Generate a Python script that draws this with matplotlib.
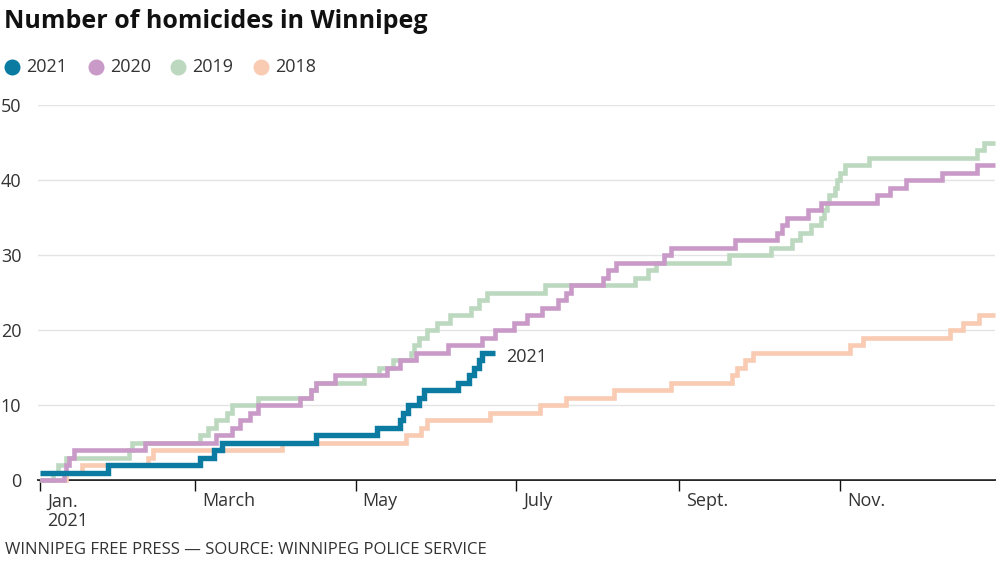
import matplotlib
matplotlib.use("Agg")
import matplotlib.pyplot as plt
from matplotlib.lines import Line2D
import matplotlib.transforms as mtransforms

# ---------------- data ----------------
title = "Number of homicides in Winnipeg"
source = "WINNIPEG FREE PRESS — SOURCE: WINNIPEG POLICE SERVICE"
years = ["2021", "2020", "2019", "2018"]
colors = ["#0b7ba1", "#c99ac8", "#bcd9bf", "#f8cbb2"]

# day of year (0 = Jan 1) at which the cumulative count changes
days_2021 = [0, 26, 61, 66, 69, 105, 128, 137, 138, 140, 144, 146, 159, 163, 165, 167, 168, 173]
counts_2021 = [1, 2, 3, 4, 5, 6, 7, 8, 9, 10, 11, 12, 13, 14, 15, 16, 17, 17]

days_2020 = [0, 9, 10, 11, 13, 40, 67, 73, 76, 80, 83, 99, 103, 105, 112, 132, 137, 143, 155, 168,
             173, 180, 185, 191, 197, 200, 202, 214, 216, 219, 237, 240, 264, 280, 282, 284, 292,
             297, 318, 323, 329, 343, 356, 363]
counts_2020 = [0, 1, 2, 3, 4, 5, 6, 7, 8, 9, 10, 11, 12, 13, 14, 15, 16, 17, 18, 19,
               20, 21, 22, 23, 24, 25, 26, 27, 28, 29, 30, 31, 32, 33, 34, 35, 36,
               37, 38, 39, 40, 41, 42, 42]

days_2019 = [0, 5, 7, 10, 34, 35, 61, 64, 67, 71, 73, 83, 103, 105, 123, 129, 134, 141, 142, 144,
             147, 151, 156, 164, 167, 170, 192, 226, 231, 234, 262, 278, 286, 289, 293, 297, 298,
             299, 300, 302, 303, 304, 306, 315, 356, 359, 363]
counts_2019 = [0, 1, 2, 3, 4, 5, 6, 7, 8, 9, 10, 11, 12, 13, 14, 15, 16, 17, 18, 19,
               20, 21, 22, 23, 24, 25, 26, 27, 28, 29, 30, 31, 32, 33, 34, 35, 36,
               37, 38, 39, 40, 41, 42, 43, 44, 45, 45]

days_2018 = [0, 10, 16, 41, 43, 92, 139, 145, 147, 171, 190, 200, 218, 240, 263, 265, 268, 271,
             308, 313, 346, 351, 357, 363]
counts_2018 = [0, 1, 2, 3, 4, 5, 6, 7, 8, 9, 10, 11, 12, 13, 14, 15, 16, 17,
               18, 19, 20, 21, 22, 22]

month_days = [0, 59, 120, 181, 243, 304]
month_labels = ["Jan.\n2021", "March", "May", "July", "Sept.", "Nov."]
y_ticks = [0, 10, 20, 30, 40, 50]

# ---------------- style ----------------
FONT = ["Open Sans", "DejaVu Sans"]
plt.rcParams["font.family"] = FONT
TXT = "#333333"

W, H = 1000, 561
fig = plt.figure(figsize=(W / 100, H / 100), dpi=100)
fig.patch.set_facecolor("white")

ax = fig.add_axes([38 / W, 1 - 480 / H, (995 - 38) / W, (480 - 105) / H])
ax.set_xlim(-0.76, 363)
ax.set_ylim(0, 50)

series = [
    (days_2018, counts_2018, colors[3], 3.3, 1),
    (days_2019, counts_2019, colors[2], 3.3, 2),
    (days_2020, counts_2020, colors[1], 3.3, 3),
    (days_2021, counts_2021, colors[0], 3.9, 4),
]
for d, c, col, lw, z in series:
    ax.step(d, c, where="post", color=col, lw=lw, zorder=z, clip_on=False,
            solid_capstyle="butt", solid_joinstyle="miter")

ax.annotate("2021", xy=(days_2021[-1], counts_2021[-1]), xytext=(8, -3),
            textcoords="offset points", ha="left", va="center",
            fontsize=13, color=TXT)

# axes styling
for s in ["top", "right", "left"]:
    ax.spines[s].set_visible(False)
ax.spines["bottom"].set_color("#111111")
ax.spines["bottom"].set_linewidth(1.3)
ax.spines["bottom"].set_zorder(0.5)

ax.set_yticks(y_ticks)
ax.set_yticklabels([str(v) for v in y_ticks])
ax.tick_params(axis="y", length=0, pad=12, labelsize=13, labelcolor=TXT)
ax.yaxis.grid(True, color="#e4e4e4", lw=1)
ax.set_axisbelow(True)

ax.set_xticks(month_days)
ax.set_xticklabels(month_labels, ha="left", va="top", linespacing=1.1)
ax.tick_params(axis="x", length=8, width=1, color="#111111", direction="out",
               pad=1, labelsize=13, labelcolor=TXT)
offset = mtransforms.ScaledTranslation(7 / 100, 0, fig.dpi_scale_trans)
for lab in ax.get_xticklabels():
    lab.set_transform(lab.get_transform() + offset)

# title
fig.text(4 / W, 1 - 22 / H, title, ha="left", va="center", fontsize=18,
         fontweight="bold", color="#111111")

# legend
leg_x = [12, 96, 178, 261]
leg_y = 1 - 67 / H
for xc, yr, col in zip(leg_x, years, colors):
    fig.add_artist(Line2D([xc / W], [leg_y], marker="o", markersize=10.5,
                          color=col, linestyle="none", transform=fig.transFigure))
    fig.text((xc + 14) / W, leg_y, yr, ha="left", va="center", fontsize=13, color=TXT)

# footer
fig.text(5 / W, 1 - 550 / H, source, ha="left", va="center", fontsize=12, color=TXT)

fig.savefig("out.png", dpi=100, facecolor="white")
